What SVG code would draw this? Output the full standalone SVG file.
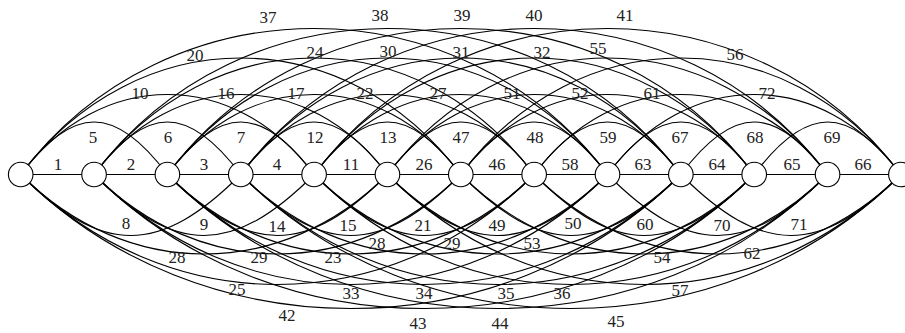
<svg xmlns="http://www.w3.org/2000/svg" width="905" height="333" viewBox="0 0 905 333">
<style>
.e{fill:none;stroke:#000;stroke-width:1.1}
.n{fill:#fff;stroke:#000;stroke-width:1.1}
text{font-family:"Liberation Serif","DejaVu Serif",serif;font-size:17px;text-anchor:middle;fill:#222}
</style>
<rect width="905" height="333" fill="#fff"/>
<g id="connectors">
<!-- distance 1 -->
<path class="e" d="M20.7,174.5H900.9"/>
<!-- distance 2 (above) -->
<path class="e" d="M20.7,174.5c52.5,-70 94.2,-70 146.7,0"/>
<path class="e" d="M94.05,174.5c52.5,-70 94.2,-70 146.7,0"/>
<path class="e" d="M167.4,174.5c52.5,-70 94.2,-70 146.7,0"/>
<path class="e" d="M240.75,174.5c52.5,-70 94.2,-70 146.7,0"/>
<path class="e" d="M314.1,174.5c52.5,-70 94.2,-70 146.7,0"/>
<path class="e" d="M387.45,174.5c52.5,-70 94.2,-70 146.7,0"/>
<path class="e" d="M460.8,174.5c52.5,-70 94.2,-70 146.7,0"/>
<path class="e" d="M534.15,174.5c52.5,-70 94.2,-70 146.7,0"/>
<path class="e" d="M607.5,174.5c52.5,-70 94.2,-70 146.7,0"/>
<path class="e" d="M680.85,174.5c52.5,-70 94.2,-70 146.7,0"/>
<path class="e" d="M754.2,174.5c52.5,-70 94.2,-70 146.7,0"/>
<!-- distance 3 (below) -->
<path class="e" d="M20.7,174.5c81.3,81.3 138.75,81.3 220.05,0"/>
<path class="e" d="M94.05,174.5c81.3,81.3 138.75,81.3 220.05,0"/>
<path class="e" d="M167.4,174.5c81.3,81.3 138.75,81.3 220.05,0"/>
<path class="e" d="M240.75,174.5c81.3,81.3 138.75,81.3 220.05,0"/>
<path class="e" d="M314.1,174.5c81.3,81.3 138.75,81.3 220.05,0"/>
<path class="e" d="M387.45,174.5c81.3,81.3 138.75,81.3 220.05,0"/>
<path class="e" d="M460.8,174.5c81.3,81.3 138.75,81.3 220.05,0"/>
<path class="e" d="M534.15,174.5c81.3,81.3 138.75,81.3 220.05,0"/>
<path class="e" d="M607.5,174.5c81.3,81.3 138.75,81.3 220.05,0"/>
<path class="e" d="M680.85,174.5c81.3,81.3 138.75,81.3 220.05,0"/>
<!-- distance 4 (above) -->
<path class="e" d="M20.7,174.5c80,-106.7 213.4,-106.7 293.4,0"/>
<path class="e" d="M94.05,174.5c80,-106.7 213.4,-106.7 293.4,0"/>
<path class="e" d="M167.4,174.5c80,-106.7 213.4,-106.7 293.4,0"/>
<path class="e" d="M240.75,174.5c80,-106.7 213.4,-106.7 293.4,0"/>
<path class="e" d="M314.1,174.5c80,-106.7 213.4,-106.7 293.4,0"/>
<path class="e" d="M387.45,174.5c80,-106.7 213.4,-106.7 293.4,0"/>
<path class="e" d="M460.8,174.5c80,-106.7 213.4,-106.7 293.4,0"/>
<path class="e" d="M534.15,174.5c80,-106.7 213.4,-106.7 293.4,0"/>
<path class="e" d="M607.5,174.5c80,-106.7 213.4,-106.7 293.4,0"/>
<!-- distance 5 (below) -->
<path class="e" d="M20.7,174.5c106,106 260.75,106 366.75,0"/>
<path class="e" d="M94.05,174.5c106,106 260.75,106 366.75,0"/>
<path class="e" d="M167.4,174.5c106,106 260.75,106 366.75,0"/>
<path class="e" d="M240.75,174.5c106,106 260.75,106 366.75,0"/>
<path class="e" d="M314.1,174.5c106,106 260.75,106 366.75,0"/>
<path class="e" d="M387.45,174.5c106,106 260.75,106 366.75,0"/>
<path class="e" d="M460.8,174.5c106,106 260.75,106 366.75,0"/>
<path class="e" d="M534.15,174.5c106,106 260.75,106 366.75,0"/>
<!-- distance 6 (above) -->
<path class="e" d="M20.7,174.5c116.5,-155.3 323.6,-155.3 440.1,0"/>
<path class="e" d="M94.05,174.5c116.5,-155.3 323.6,-155.3 440.1,0"/>
<path class="e" d="M167.4,174.5c116.5,-155.3 323.6,-155.3 440.1,0"/>
<path class="e" d="M240.75,174.5c116.5,-155.3 323.6,-155.3 440.1,0"/>
<path class="e" d="M314.1,174.5c116.5,-155.3 323.6,-155.3 440.1,0"/>
<path class="e" d="M387.45,174.5c116.5,-155.3 323.6,-155.3 440.1,0"/>
<path class="e" d="M460.8,174.5c116.5,-155.3 323.6,-155.3 440.1,0"/>
<!-- distance 7 (below) -->
<path class="e" d="M20.7,174.5c146.7,146.7 366.75,146.7 513.45,0"/>
<path class="e" d="M94.05,174.5c146.7,146.7 366.75,146.7 513.45,0"/>
<path class="e" d="M167.4,174.5c146.7,146.7 366.75,146.7 513.45,0"/>
<path class="e" d="M240.75,174.5c146.7,146.7 366.75,146.7 513.45,0"/>
<path class="e" d="M314.1,174.5c146.7,146.7 366.75,146.7 513.45,0"/>
<path class="e" d="M387.45,174.5c146.7,146.7 366.75,146.7 513.45,0"/>
<!-- distance 8 (above) -->
<path class="e" d="M20.7,174.5c146,-194.7 440.8,-194.7 586.8,0"/>
<path class="e" d="M94.05,174.5c146,-194.7 440.8,-194.7 586.8,0"/>
<path class="e" d="M167.4,174.5c146,-194.7 440.8,-194.7 586.8,0"/>
<path class="e" d="M240.75,174.5c146,-194.7 440.8,-194.7 586.8,0"/>
<path class="e" d="M314.1,174.5c146,-194.7 440.8,-194.7 586.8,0"/>
<!-- distance 9 (below) -->
<path class="e" d="M20.7,174.5c178.7,178.7 481.45,178.7 660.15,0"/>
<path class="e" d="M94.05,174.5c178.7,178.7 481.45,178.7 660.15,0"/>
<path class="e" d="M167.4,174.5c178.7,178.7 481.45,178.7 660.15,0"/>
<path class="e" d="M240.75,174.5c178.7,178.7 481.45,178.7 660.15,0"/>
</g>
<g id="labels">
<text x="58" y="170">1</text><text x="131" y="170">2</text><text x="204" y="170">3</text><text x="277" y="170">4</text>
<text x="351" y="170">11</text><text x="424" y="170">26</text><text x="497" y="170">46</text><text x="570" y="170">58</text>
<text x="643" y="170">63</text><text x="717" y="170">64</text><text x="792" y="170">65</text><text x="863" y="170">66</text>
<text x="93" y="143">5</text><text x="168" y="143">6</text><text x="241" y="143">7</text><text x="315" y="143">12</text>
<text x="388" y="143">13</text><text x="461" y="143">47</text><text x="535" y="143">48</text><text x="608" y="143">59</text>
<text x="680" y="143">67</text><text x="755" y="143">68</text><text x="832" y="143">69</text>
<text x="140" y="99">10</text><text x="226" y="99">16</text><text x="296" y="99">17</text><text x="365" y="99">22</text>
<text x="438" y="99">27</text><text x="512" y="99">51</text><text x="580" y="99">52</text><text x="652" y="99">61</text><text x="767" y="99">72</text>
<text x="195" y="61">20</text><text x="315" y="58">24</text><text x="388" y="57">30</text><text x="461" y="58">31</text>
<text x="542" y="58">32</text><text x="598" y="54">55</text><text x="735" y="60">56</text>
<text x="268" y="23">37</text><text x="380" y="21">38</text><text x="462" y="21">39</text><text x="534" y="21">40</text><text x="625" y="21">41</text>
<text x="126" y="229">8</text><text x="204" y="230">9</text><text x="277" y="232">14</text><text x="348" y="231">15</text>
<text x="423" y="231">21</text><text x="497" y="231">49</text><text x="573" y="229">50</text><text x="645" y="230">60</text>
<text x="722" y="231">70</text><text x="799" y="230">71</text>
<text x="177" y="263">28</text><text x="259" y="263">29</text><text x="333" y="263">23</text><text x="377" y="249">28</text>
<text x="452" y="249">29</text><text x="532" y="249">53</text><text x="662" y="263">54</text><text x="752" y="259">62</text>
<text x="237" y="295">25</text><text x="351" y="299">33</text><text x="424" y="299">34</text><text x="506" y="299">35</text>
<text x="562" y="299">36</text><text x="680" y="296">57</text>
<text x="287" y="321">42</text><text x="418" y="329">43</text><text x="500" y="329">44</text><text x="616" y="327">45</text>
</g>
<g id="node0"><circle class="n" cx="20.7" cy="174.5" r="12.3"/></g>
<g id="node1"><circle class="n" cx="94.05" cy="174.5" r="12.3"/></g>
<g id="node2"><circle class="n" cx="167.4" cy="174.5" r="12.3"/></g>
<g id="node3"><circle class="n" cx="240.75" cy="174.5" r="12.3"/></g>
<g id="node4"><circle class="n" cx="314.1" cy="174.5" r="12.3"/></g>
<g id="node5"><circle class="n" cx="387.45" cy="174.5" r="12.3"/></g>
<g id="node6"><circle class="n" cx="460.8" cy="174.5" r="12.3"/></g>
<g id="node7"><circle class="n" cx="534.15" cy="174.5" r="12.3"/></g>
<g id="node8"><circle class="n" cx="607.5" cy="174.5" r="12.3"/></g>
<g id="node9"><circle class="n" cx="680.85" cy="174.5" r="12.3"/></g>
<g id="node10"><circle class="n" cx="754.2" cy="174.5" r="12.3"/></g>
<g id="node11"><circle class="n" cx="827.55" cy="174.5" r="12.3"/></g>
<g id="node12"><circle class="n" cx="900.9" cy="174.5" r="12.3"/></g>
</svg>
